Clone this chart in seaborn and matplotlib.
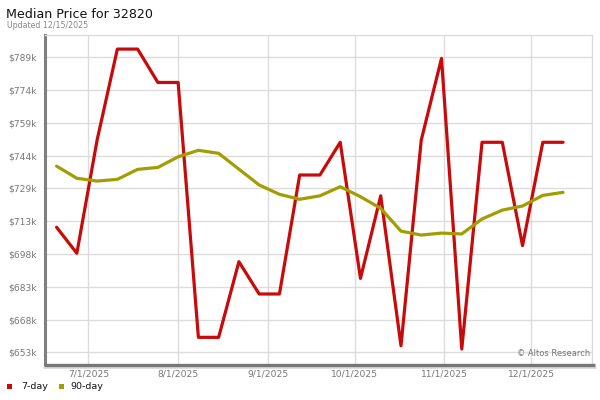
import matplotlib
matplotlib.use("Agg")
import matplotlib.pyplot as plt
from matplotlib.lines import Line2D
from matplotlib.patches import Rectangle
import seaborn as sns
import pandas as pd

# ---- data ----
dates = ["2025-06-20", "2025-06-27", "2025-07-04", "2025-07-11", "2025-07-18",
         "2025-07-25", "2025-08-01", "2025-08-08", "2025-08-15", "2025-08-22",
         "2025-08-29", "2025-09-05", "2025-09-12", "2025-09-19", "2025-09-26",
         "2025-10-03", "2025-10-10", "2025-10-17", "2025-10-24", "2025-10-31",
         "2025-11-07", "2025-11-14", "2025-11-21", "2025-11-28", "2025-12-05",
         "2025-12-12"]
price_7day = [710.7, 698.7, 750.9, 792.9, 792.9, 777.5, 777.5, 659.9, 659.9, 694.8,
              679.9, 679.9, 734.8, 734.8, 749.9, 687.1, 725.2, 656.0, 750.9, 788.6,
              654.5, 749.9, 749.9, 702.2, 749.9, 749.9]
price_90day = [738.9, 733.3, 732.0, 732.8, 737.4, 738.3, 743.2, 746.2, 744.8, 737.5,
               730.2, 725.9, 723.6, 725.2, 729.4, 724.8, 719.4, 708.9, 707.1, 708.0,
               707.6, 714.5, 718.6, 720.5, 725.4, 726.8]
series_names = ["7-day", "90-day"]
series_colors = ["#c80a0a", "#a29d02"]
ytick_values = [653.0, 668.12, 683.24, 698.36, 713.48, 728.6, 743.72, 758.84, 773.96, 789.08]
ytick_labels = ["$653k", "$668k", "$683k", "$698k", "$713k", "$729k", "$744k", "$759k", "$774k", "$789k"]
xtick_dates = ["2025-07-01", "2025-08-01", "2025-09-01", "2025-10-01", "2025-11-01", "2025-12-01"]
xtick_labels = ["7/1/2025", "8/1/2025", "9/1/2025", "10/1/2025", "11/1/2025", "12/1/2025"]
title = "Median Price for 32820"
subtitle = "Updated 12/15/2025"
watermark = "\u00a9 Altos Research"

df = pd.DataFrame({
    "date": pd.to_datetime(dates * 2),
    "value": price_7day + price_90day,
    "series": [series_names[0]] * len(dates) + [series_names[1]] * len(dates),
})

sns.set_style("white")
plt.rcParams["font.family"] = ["DejaVu Sans"]

W, H = 600, 400
fig = plt.figure(figsize=(6, 4), dpi=100)
ax = fig.add_axes([45 / W, 1 - 364 / H, (592 - 45) / W, (364 - 35) / H])

palette = dict(zip(series_names, series_colors))
sns.lineplot(data=df, x="date", y="value", hue="series", palette=palette,
             linewidth=2.3, ax=ax, legend=False, sort=False)

ax.set_xlim(pd.Timestamp("2025-06-16"), pd.Timestamp("2025-12-22"))
ax.set_ylim(647.6, 799.4)
ax.set_yticks(ytick_values)
ax.set_yticklabels(ytick_labels)
ax.set_xticks(pd.to_datetime(xtick_dates))
ax.set_xticklabels(xtick_labels)
ax.set_xlabel("")
ax.set_ylabel("")
ax.grid(True, color="#dcdcdc", linewidth=1)
ax.set_axisbelow(True)
ax.tick_params(axis="y", length=0, pad=6, labelsize=6.6, labelcolor="#777777")
ax.tick_params(axis="x", length=0, pad=4, labelsize=6.6, labelcolor="#777777")

for side in ["top", "right"]:
    ax.spines[side].set_color("#dcdcdc")
    ax.spines[side].set_linewidth(1)
ax.spines["left"].set_color("#808080")
ax.spines["left"].set_linewidth(2.2)
ax.spines["bottom"].set_visible(False)

# thick bottom bar with a light shadow, extending slightly past the plot
fig.add_artist(Line2D([44 / W, 596 / W], [1 - 368 / H, 1 - 368 / H],
                      color="#d8d8d8", linewidth=1.2, transform=fig.transFigure))
fig.add_artist(Line2D([44 / W, 595 / W], [1 - 365.3 / H, 1 - 365.3 / H],
                      color="#777777", linewidth=2.4, transform=fig.transFigure,
                      solid_capstyle="butt"))

fig.text(6 / W, 1 - 17.5 / H, title, fontsize=9.1, color="#111111", va="baseline", ha="left")
fig.text(7 / W, 1 - 27.5 / H, subtitle, fontsize=5.7, color="#888888", va="baseline", ha="left")
fig.text(590 / W, 1 - 354 / H, watermark, fontsize=6, color="#777777",
         ha="right", va="center")

# legend
leg_y = 1 - 386.5 / H
for x0, tx, name, col in [(7, 21, series_names[0], series_colors[0]),
                          (59, 70, series_names[1], series_colors[1])]:
    fig.add_artist(Rectangle((x0 / W, leg_y - 2.5 / H), 5 / W, 5 / H,
                             facecolor=col, edgecolor="none", transform=fig.transFigure))
    fig.text(tx / W, leg_y, name, fontsize=6.8, color="#111111", ha="left", va="center")

fig.savefig("out.png", dpi=100)
